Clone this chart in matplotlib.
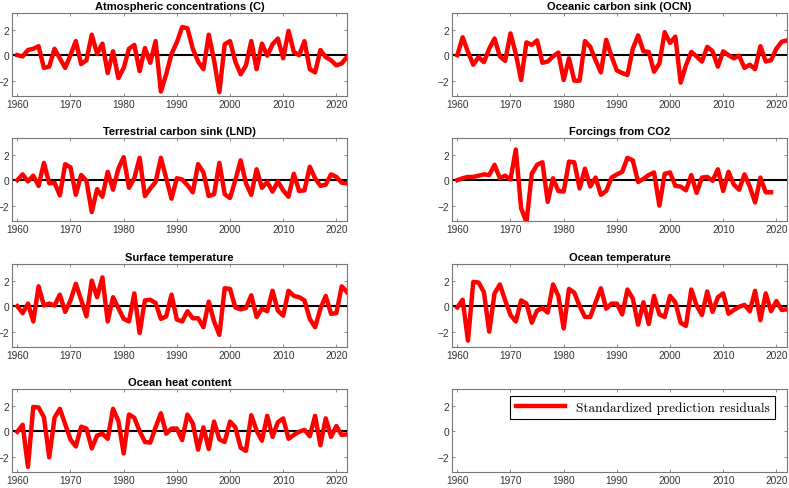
import matplotlib.pyplot as plt

# years of the residual series
years = list(range(1960, 2023))
years_co2 = list(range(1960, 2020))

atm = [0.0, -0.1, 0.4, 0.5, 0.7, -1.0, -0.9, 0.5, -0.25, -1.0,
       0.0, 1.1, -0.7, -0.4, 1.6, 0.1, 0.9, -1.4, 0.3, -1.8,
       -1.0, 0.5, 0.8, -1.25, 0.55, -0.6, 1.1, -2.85, -1.5, 0.1,
       1.0, 2.2, 2.1, 0.5, -0.5, -1.1, 1.6, -0.4, -2.9, 0.85,
       1.1, -0.5, -1.5, -0.8, 1.1, -1.1, 0.9, -0.05, 0.85, 1.3,
       -0.25, 1.9, 0.25, 0.0, 1.1, -1.1, -1.35, 0.4, -0.15, -0.4,
       -0.8, -0.65, -0.15]

ocn = [0.0, 1.4, 0.25, -0.75, -0.15, -0.55, 0.5, 1.3, -0.1, -0.45,
       1.7, 0.1, -1.95, 1.0, 0.8, 1.15, -0.6, -0.5, -0.1, 0.2,
       -1.95, -0.25, -2.0, -2.0, 1.1, 0.65, -0.4, -1.35, 1.2, -0.1,
       -1.2, -1.4, -1.55, 0.5, 1.55, 0.3, 0.25, -1.3, -0.65, 1.8,
       0.95, 1.45, -2.15, -0.8, 0.25, -0.1, -0.5, 0.65, 0.3, -0.9,
       0.3, 0.0, -0.25, -0.05, -1.0, -0.75, -1.1, 0.7, -0.5, -0.4,
       0.5, 1.05, 1.15]

lnd = [0.0, 0.45, -0.1, 0.35, -0.45, 1.35, -0.25, -0.2, -1.2, 1.25,
       1.0, -1.15, 0.4, -0.05, -2.5, -0.7, -1.3, 0.65, -0.75, 0.9,
       1.8, -0.6, 0.15, 1.75, -1.25, -0.65, -0.15, 1.75, 0.15, -1.45,
       0.15, 0.05, -0.4, -0.95, 1.25, 0.6, -1.25, -1.1, 1.35, -1.1,
       -1.4, 0.0, 1.55, -0.25, -1.15, 0.85, -0.6, -0.15, -0.9, -0.1,
       -0.8, -1.3, 0.5, -0.85, -0.8, 1.05, 0.15, -0.45, -0.35, 0.45,
       0.25, -0.2, -0.25]

co2 = [0.0, 0.15, 0.25, 0.25, 0.35, 0.45, 0.4, 1.2, 0.15, 0.35,
       0.05, 2.4, -2.2, -3.3, 0.5, 1.2, 1.4, -1.7, 0.15, -0.85,
       -0.9, 1.45, 1.4, -0.65, 0.9, -0.5, 0.2, -1.15, -0.85, 0.2,
       0.45, 0.65, 1.75, 1.55, -0.15, 0.1, 0.4, 0.6, -2.0, 0.5,
       0.6, -0.45, -0.5, -0.8, 0.4, -1.0, 0.2, 0.25, -0.05, 0.85,
       -0.85, 0.65, -0.35, -0.75, 0.45, -0.5, -1.75, 0.2, -0.95, -0.95]

sfc = [0.0, -0.55, 0.2, -1.2, 1.55, 0.05, 0.2, 0.05, 0.9, -0.45,
       0.45, 1.75, 0.5, -0.8, 2.0, 0.7, 2.25, -1.2, 0.7, -0.15,
       -1.0, -1.2, 1.0, -2.1, 0.45, 0.5, 0.25, -1.0, -0.8, 0.9,
       -1.05, -1.2, -0.4, -0.95, -0.95, -1.65, 0.35, -1.2, -2.25, 1.4,
       1.35, -0.1, -0.25, -0.15, 0.85, -0.85, -0.2, -0.4, 1.2, -0.35,
       -0.75, 1.2, 0.8, 0.7, 0.45, -1.0, -1.65, -0.2, 0.8, -0.6,
       -0.55, 1.55, 1.1]

ocean_t = [-0.1, 0.5, -2.7, 1.9, 1.85, 1.1, -2.0, 1.0, 1.7, 0.45,
           -0.7, -1.2, 0.45, 0.2, -1.3, -0.35, -0.15, -0.5, 1.7, 0.8,
           -1.75, 1.35, 1.05, 0.0, -0.85, -0.85, 0.3, 1.4, -0.2, 0.2,
           0.2, -0.65, 1.3, 0.6, -1.45, 0.3, -1.4, 0.8, -0.65, -0.85,
           0.8, 0.3, -1.3, -1.55, 1.3, 0.05, -0.7, 1.15, -0.45, 0.7,
           1.0, -0.6, -0.3, -0.05, 0.1, -0.4, 1.2, -1.1, 1.0, -0.4,
           0.4, -0.3, -0.25]

ohc = [-0.05, 0.5, -2.8, 1.9, 1.85, 1.1, -2.05, 1.05, 1.75, 0.55,
       -0.65, -1.2, 0.35, 0.2, -1.35, -0.35, -0.2, -0.6, 1.75, 0.8,
       -1.75, 1.3, 1.05, 0.0, -0.85, -0.9, 0.3, 1.4, -0.2, 0.2,
       0.2, -0.7, 1.3, 0.6, -1.45, 0.3, -1.4, 0.75, -0.65, -0.85,
       0.75, 0.3, -1.3, -1.55, 1.25, 0.05, -0.75, 1.2, -0.45, 0.7,
       1.0, -0.6, -0.3, -0.05, 0.1, -0.4, 1.2, -1.1, 1.0, -0.45,
       0.4, -0.3, -0.25]

panels = [
    ('Atmospheric concentrations (C)', years, atm),
    ('Oceanic carbon sink (OCN)', years, ocn),
    ('Terrestrial carbon sink (LND)', years, lnd),
    ('Forcings from CO2', years_co2, co2),
    ('Surface temperature', years, sfc),
    ('Ocean temperature', years, ocean_t),
    ('Ocean heat content', years, ohc),
    (None, None, None),
]

xticks = [1960, 1970, 1980, 1990, 2000, 2010, 2020]
yticks = [-2, 0, 2]

plt.rcParams['font.family'] = ['Liberation Sans', 'DejaVu Sans']

fig = plt.figure(figsize=(7.89, 4.89), dpi=100)

lefts = [12 / 789, 452 / 789]
width = 335 / 789
tops = [14, 139, 265, 390]
height = 83 / 489

for i, (title, x, y) in enumerate(panels):
    row, col = divmod(i, 2)
    bottom = 1 - (tops[row] + 83) / 489
    ax = fig.add_axes([lefts[col], bottom, width, height])

    if y is not None:
        ax.axhline(0, color='black', lw=1.5, zorder=2)
        ax.plot(x, y, color='#ff0000', lw=3.2, zorder=3,
                label='Standardized prediction residuals')
        ax.set_title(title, fontsize=8, fontweight='bold', pad=3)

    ax.set_xlim(1959, 2022)
    ax.set_ylim(-3.2, 3.3)
    ax.set_xticks(xticks)
    ax.set_yticks(yticks)
    ax.tick_params(direction='in', length=2.5, width=0.6, top=True, right=True,
                   labelsize=7.3, colors='#777777', labelcolor='#333333', pad=2)
    for s in ax.spines.values():
        s.set_color('#777777')
        s.set_linewidth(0.8)

    if y is None:
        # legend only, in the empty last panel
        h, = ax.plot([], [], color='#ff0000', lw=3.2)
        leg = ax.legend([h], ['Standardized prediction residuals'],
                        loc='upper right', bbox_to_anchor=(0.964, 0.92),
                        borderaxespad=0, fancybox=False, framealpha=1,
                        edgecolor='black', handlelength=3.7,
                        prop={'family': 'cmr10', 'size': 9.6})
        leg.get_frame().set_linewidth(0.8)

plt.savefig('out.png', dpi=100)
